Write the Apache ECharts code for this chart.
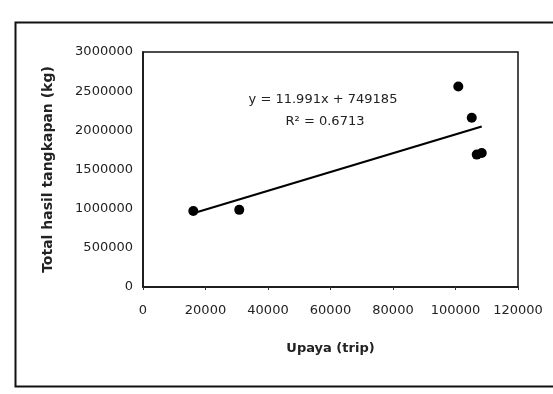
<!DOCTYPE html>
<html>
<head>
<meta charset="utf-8">
<script src="https://cdn.jsdelivr.net/npm/echarts@6/dist/echarts.min.js"></script>
<style>html,body{margin:0;padding:0;background:#fff;}#c{width:553px;height:394px;}</style>
</head>
<body>
<div id="c"></div>
<script>
const upaya = [16100, 30800, 100900, 105200, 106800, 108400];
const hasil = [970000, 985000, 2560000, 2160000, 1690000, 1710000];
const trendSlope = 11.991;
const trendIntercept = 749185;
const xTicks = [0, 20000, 40000, 60000, 80000, 100000, 120000];
const yTicks = [0, 500000, 1000000, 1500000, 2000000, 2500000, 3000000];
const eqText = 'y = 11.991x + 749185';
const r2Text = 'R² = 0.6713';

const pts = upaya.map((x, i) => [x, hasil[i]]);
const xMin = Math.min(...upaya), xMax = Math.max(...upaya);
const trend = [[xMin, trendSlope * xMin + trendIntercept], [xMax, trendSlope * xMax + trendIntercept]];
const font = 'DejaVu Sans';
const plain = v => String(v);

const chart = echarts.init(document.getElementById('c'), null, {renderer: 'canvas'});
chart.setOption({
  backgroundColor: '#fff',
  animation: false,
  grid: {left: 143, top: 52, width: 375, height: 235, show: true, borderColor: '#111', borderWidth: 1.5, backgroundColor: 'transparent'},
  xAxis: {
    type: 'value', min: xTicks[0], max: xTicks[xTicks.length - 1], interval: xTicks[1] - xTicks[0],
    name: 'Upaya (trip)', nameLocation: 'middle', nameGap: 55,
    nameTextStyle: {fontFamily: font, fontWeight: 'bold', fontSize: 13, color: '#222'},
    axisLine: {show: true, lineStyle: {color: '#111', width: 1.5}},
    axisTick: {show: true, inside: false, length: 3, lineStyle: {color: '#333'}},
    splitLine: {show: false},
    axisLabel: {fontFamily: font, fontSize: 13, color: '#222', margin: 17, formatter: plain}
  },
  yAxis: {
    type: 'value', min: yTicks[0], max: yTicks[yTicks.length - 1], interval: yTicks[1] - yTicks[0],
    name: 'Total hasil tangkapan (kg)', nameLocation: 'middle', nameGap: 88, nameRotate: 90,
    nameTextStyle: {fontFamily: font, fontWeight: 'bold', fontSize: 14, color: '#222'},
    axisLine: {show: true, lineStyle: {color: '#111', width: 1.5}},
    axisTick: {show: false},
    splitLine: {show: false},
    axisLabel: {fontFamily: font, fontSize: 13, color: '#222', margin: 10, formatter: plain}
  },
  graphic: [
    {type: 'rect', left: 13, top: 20, shape: {x: 0, y: 0, width: 600, height: 364}, style: {fill: 'none', stroke: '#111', lineWidth: 2}, silent: true, z: 100},
    {type: 'text', x: 323, y: 100, style: {text: eqText, fontFamily: font, fontSize: 13, fill: '#222', align: 'center', verticalAlign: 'middle'}, z: 100},
    {type: 'text', x: 325, y: 122, style: {text: r2Text, fontFamily: font, fontSize: 13, fill: '#222', align: 'center', verticalAlign: 'middle'}, z: 100}
  ],
  series: [
    {type: 'line', data: trend, symbol: 'none', lineStyle: {color: '#000', width: 2.2}, z: 2},
    {type: 'scatter', data: pts, symbol: 'circle', symbolSize: 10, itemStyle: {color: '#000', opacity: 1}, z: 3}
  ]
});
</script>
</body>
</html>
